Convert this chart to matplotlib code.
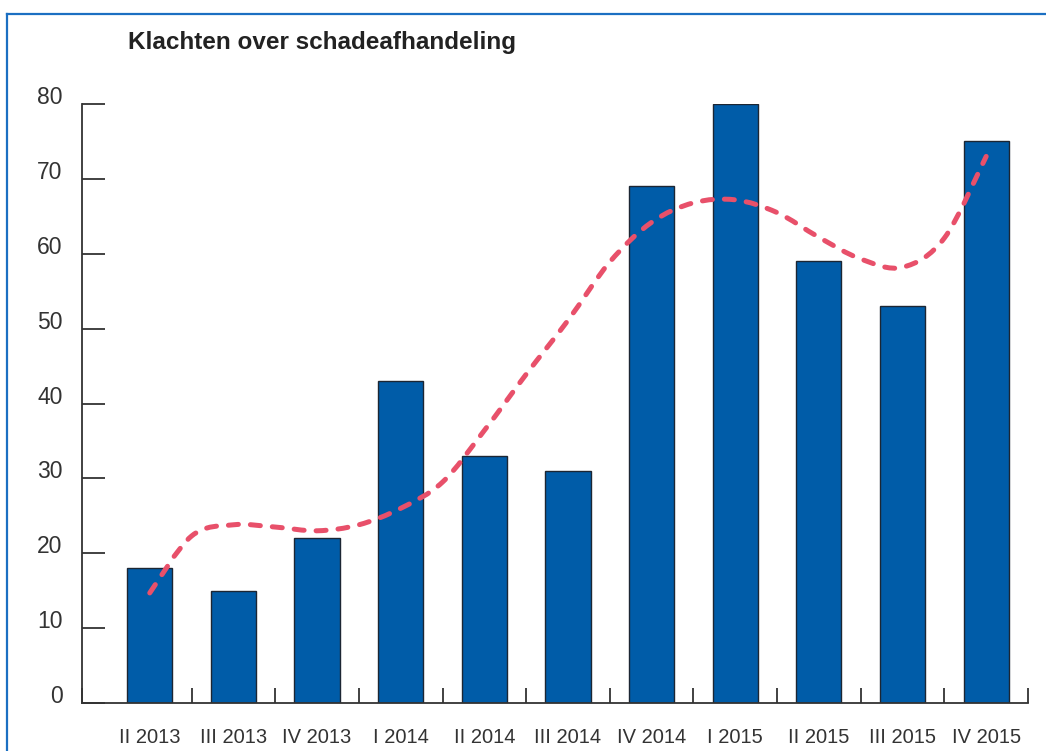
import numpy as np
import matplotlib
matplotlib.use("Agg")
import matplotlib.pyplot as plt
from matplotlib.path import Path
from matplotlib.patches import PathPatch
from matplotlib.lines import Line2D

# --- data -------------------------------------------------------------------
quarters = ["II 2013", "III 2013", "IV 2013", "I 2014", "II 2014", "III 2014",
            "IV 2014", "I 2015", "II 2015", "III 2015", "IV 2015"]
complaints = [18, 15, 22, 43, 33, 31, 69, 80, 59, 53, 75]
# trend line, read at every half quarter
trend_x = [0, 0.5, 1, 1.5, 2, 2.5, 3, 3.5, 4, 4.5, 5, 5.5, 6, 6.5, 7, 7.5,
           8, 8.5, 9, 9.5, 10]
trend_y = [14.7, 22.3, 23.8, 23.5, 23.0, 23.8, 26.0, 29.5, 36.4, 43.9, 51.1,
           58.9, 64.2, 66.8, 67.2, 65.5, 62.2, 59.3, 58.2, 62.1, 73.0]
yticks = [0, 10, 20, 30, 40, 50, 60, 70, 80]

BLUE = "#005ca8"
RED = "#e8506a"
FRAME = "#1b6fc2"
INK = "#333333"
SANS = ["Liberation Sans", "DejaVu Sans"]

W, H = 1046, 751
fig = plt.figure(figsize=(W / 100, H / 100), dpi=100)
ax = fig.add_axes([82 / W, 48 / H, (1028 - 82) / W, 599 / H])

x = np.arange(len(quarters))
ax.bar(x, complaints, width=0.54, color=BLUE, edgecolor="#1c2633", lw=1.0, zorder=2)

# smooth trend: Catmull-Rom through the read points, drawn as a bezier path
pts = np.column_stack([trend_x, trend_y])
ext = np.vstack([pts[0], pts, pts[-1]])
verts, codes = [tuple(pts[0])], [Path.MOVETO]
for i in range(1, len(ext) - 2):
    p0, p1, p2, p3 = ext[i - 1], ext[i], ext[i + 1], ext[i + 2]
    verts += [tuple(p1 + (p2 - p0) / 6), tuple(p2 - (p3 - p1) / 6), tuple(p2)]
    codes += [Path.CURVE4] * 3
ax.add_patch(PathPatch(Path(verts, codes), fill=False, ec=RED, lw=3.6,
                       ls=(0, (2.0, 2.4)), capstyle="round", zorder=3, clip_on=False))

ax.set_xlim(-0.81, 10.5)
ax.set_ylim(0, 80)
for s in ("top", "right"):
    ax.spines[s].set_visible(False)
for s in ("left", "bottom"):
    ax.spines[s].set_color(INK)
    ax.spines[s].set_linewidth(1.3)

ax.set_yticks(yticks)
ax.tick_params(axis="y", direction="in", length=16.5, width=1.3, color=INK,
               pad=14, labelsize=16.5, labelcolor=INK)
plt.setp(ax.get_yticklabels(), va="baseline", family=SANS)

ax.set_xticks(x)
ax.set_xticklabels(quarters, family=SANS)
ax.tick_params(axis="x", which="major", length=0, pad=18, labelsize=14.5, labelcolor=INK)
ax.set_xticks([-0.81] + [i + 0.5 for i in x], minor=True)
ax.tick_params(axis="x", which="minor", direction="in", length=11, width=1.3, color=INK)

fig.text(128 / W, 1 - 43 / H, "Klachten over schadeafhandeling", ha="left", va="center",
         fontsize=17.5, fontweight="bold", color="#222222", family=SANS)

# blue frame: left and top edges
fig.add_artist(Line2D([7 / W, 7 / W], [0, 1 - 14 / H], transform=fig.transFigure,
                      color=FRAME, lw=1.6))
fig.add_artist(Line2D([7 / W, 1], [1 - 14 / H, 1 - 14 / H], transform=fig.transFigure,
                      color=FRAME, lw=1.6))

fig.savefig("out.png", dpi=100)
